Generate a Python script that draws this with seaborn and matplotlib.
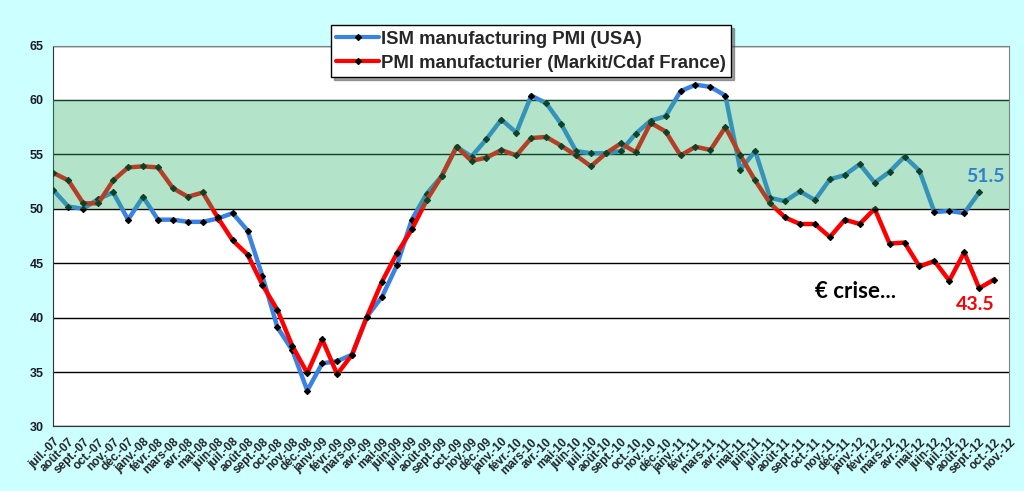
import pandas as pd
import matplotlib
matplotlib.use("Agg")
import matplotlib.pyplot as plt
import seaborn as sns

month_names = ["janv.", "févr.", "mars", "avr.", "mai", "juin",
               "juil.", "août", "sept.", "oct.", "nov.", "déc."]
years = ["07", "08", "09", "10", "11", "12"]

# juil.-07 ... nov.-12
months = [f"{m}-{y}" for y in years for m in month_names]
months = months[6:6 + 65]

ism_usa = [51.7, 50.2, 50.0, 50.9, 51.5, 49.0, 51.1, 49.0, 49.0, 48.8,
           48.8, 49.1, 49.6, 48.0, 43.8, 39.1, 37.0, 33.3, 35.8, 36.0,
           36.6, 40.1, 41.9, 44.8, 49.0, 51.4, 53.0, 55.7, 54.8, 56.4,
           58.2, 57.0, 60.4, 59.7, 57.8, 55.3, 55.1, 55.1, 55.3, 56.9,
           58.1, 58.5, 60.8, 61.4, 61.2, 60.4, 53.6, 55.3, 51.0, 50.7,
           51.6, 50.8, 52.7, 53.1, 54.1, 52.4, 53.4, 54.8, 53.5, 49.7,
           49.8, 49.6, 51.5]

pmi_france = [53.3, 52.6, 50.5, 50.5, 52.6, 53.8, 53.9, 53.8, 51.9, 51.1,
              51.5, 49.2, 47.1, 45.8, 43.0, 40.7, 37.4, 34.9, 38.0, 34.8,
              36.6, 40.1, 43.3, 45.9, 48.1, 50.8, 53.0, 55.7, 54.4, 54.7,
              55.4, 54.9, 56.5, 56.6, 55.8, 54.9, 53.9, 55.1, 56.0, 55.2,
              57.9, 57.1, 54.9, 55.7, 55.4, 57.5, 54.9, 52.6, 50.5, 49.2,
              48.6, 48.6, 47.4, 49.0, 48.6, 50.0, 46.8, 46.9, 44.7, 45.2,
              43.4, 46.0, 42.7, 43.5]

label_usa = "ISM manufacturing PMI (USA)"
label_fr = "PMI manufacturier (Markit/Cdaf France)"

df_usa = pd.DataFrame({"pos": range(len(ism_usa)), "value": ism_usa})
df_fr = pd.DataFrame({"pos": range(len(pmi_france)), "value": pmi_france})

sns.set_style("white")
plt.rcParams["font.family"] = ["Liberation Sans", "DejaVu Sans"]

fig = plt.figure(figsize=(10.24, 4.91), dpi=100, facecolor="#CCFFFF")
ax = fig.add_axes([0.0522, 0.1314, 0.9332, 0.7759])
ax.set_facecolor("white")

line_kw = dict(marker="D", markersize=3.2, markerfacecolor="black",
               markeredgecolor="black", linewidth=3.2, zorder=3)
sns.lineplot(data=df_usa, x="pos", y="value", color="#3A82E4",
             label=label_usa, ax=ax, **line_kw)
sns.lineplot(data=df_fr, x="pos", y="value", color="#FF0000",
             label=label_fr, ax=ax, **line_kw)

# zone 50-60
ax.axhspan(50, 60, color="#2DB36B", alpha=0.36, lw=0, zorder=5)

ax.set_xlim(0, len(months) - 1)
ax.set_ylim(30, 65)
ax.set_yticks(range(30, 66, 5))
ax.set_xticks(range(len(months)))
ax.set_xticklabels(months, rotation=45, ha="right", rotation_mode="anchor",
                   fontsize=8.5, fontweight="bold", color="#222222")
for t in ax.get_yticklabels():
    t.set_fontsize(9)
    t.set_fontweight("bold")
    t.set_color("#1a1a2a")
ax.tick_params(axis="both", direction="out", length=4, width=1,
               color="black", pad=3)
ax.grid(axis="y", color="black", linewidth=1)
ax.set_axisbelow(True)
ax.set_xlabel("")
ax.set_ylabel("")
for side in ["top", "right"]:
    ax.spines[side].set_color("#808080")
for side in ["left", "bottom"]:
    ax.spines[side].set_color("#333333")

ax.text(62.45, 52.95, "51.5", color="#2E7FD0", fontsize=14,
        fontweight="bold", family="Lato", ha="center", va="center", zorder=6)
ax.text(61.7, 41.2, "43.5", color="#FF0000", fontsize=14,
        fontweight="bold", family="Lato", ha="center", va="center", zorder=6)
ax.text(53.7, 42.4, "€ crise...", color="black", fontsize=16,
        fontweight="bold", family="Lato", ha="center", va="center", zorder=6)

leg = ax.legend(loc="upper left", bbox_to_anchor=(0.323, 0.949),
                bbox_transform=fig.transFigure, frameon=True, fancybox=False,
                shadow=True, edgecolor="black", framealpha=1,
                prop={"weight": "bold", "size": 13.3}, handlelength=2.3,
                handletextpad=0.1, labelspacing=0.38, borderpad=0.3,
                borderaxespad=0, numpoints=1)
leg.get_frame().set_linewidth(1)
leg.set_zorder(10)
for h in leg.legend_handles:
    h.set_linewidth(3)

fig.savefig("out.png", dpi=100, facecolor=fig.get_facecolor())
